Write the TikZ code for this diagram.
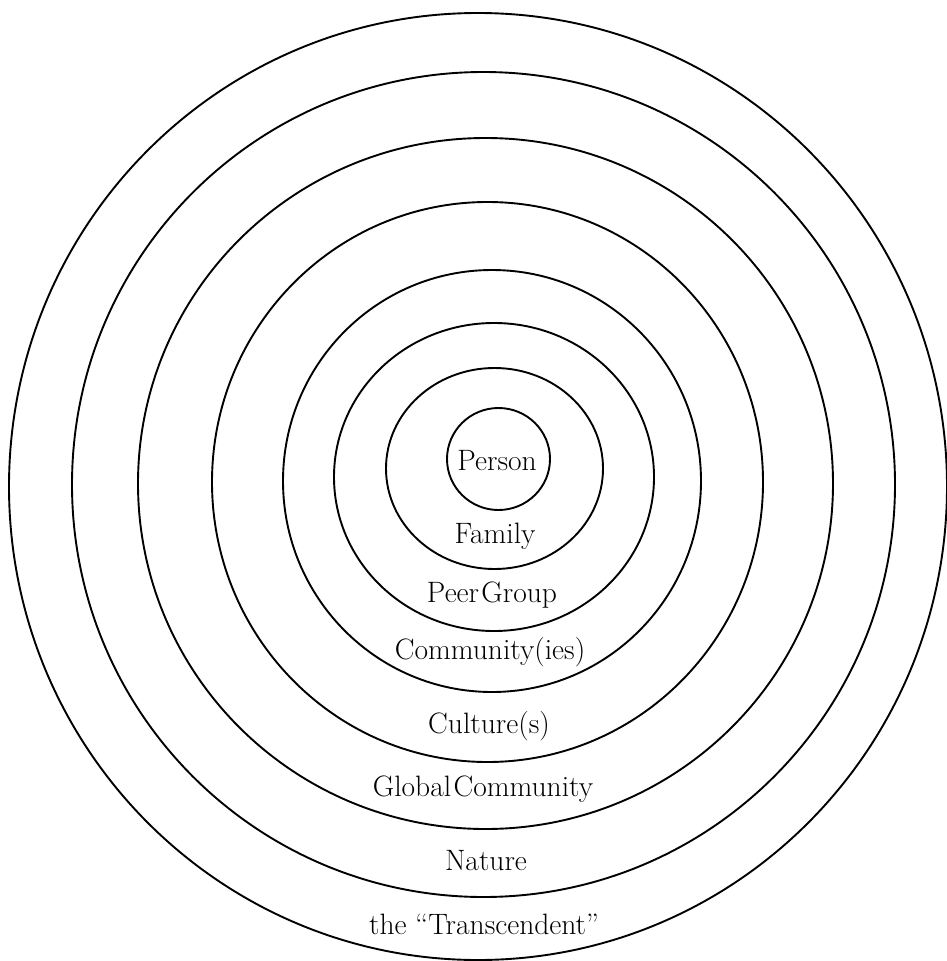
\documentclass[tikz,border=0pt]{standalone}
\begin{document}
\begin{tikzpicture}[x=1pt,y=-1pt,
  ring/.style={draw=black,line width=1.9pt},
  lbl/.style={font=\fontsize{29.5}{34}\selectfont,inner sep=0pt,anchor=base}]
\useasboundingbox (0,0) rectangle (946,961);
% rings, innermost to outermost
\coordinate (c1) at (498.5,459);
\coordinate (c2) at (494.5,468.5);
\coordinate (c3) at (494,477);
\coordinate (c4) at (492,481);
\coordinate (c5) at (487.5,482);
\coordinate (c6) at (485.5,483.5);
\coordinate (c7) at (483.5,484.5);
\coordinate (c8) at (478,486.5);
\draw[ring] (c1) ellipse [x radius=51.5,y radius=51];
\draw[ring] (c2) ellipse [x radius=108.5,y radius=100.5];
\draw[ring] (c3) ellipse [x radius=160,y radius=154];
\draw[ring] (c4) ellipse [x radius=209,y radius=211];
\draw[ring] (c5) ellipse [x radius=275.5,y radius=280];
\draw[ring] (c6) ellipse [x radius=347.5,y radius=345.5];
\draw[ring] (c7) ellipse [x radius=411.5,y radius=412.5];
\draw[ring] (c8) ellipse [x radius=469,y radius=473.5];
% labels
\node[lbl] (person) at (497,470) {Person};
\node[lbl] (family) at (495,543) {Family};
\node[lbl] (peer) at (492,602) {Peer\hspace{0.08em}Group};
\node[lbl] (community) at (490,659) {Community(ies)};
\node[lbl] (culture) at (489,733) {Culture(s)};
\node[lbl] (global) at (483,796) {Global\hspace{0.08em}Community};
\node[lbl] (nature) at (486,870) {Nature};
\node[lbl] (transcendent) at (484,934) {the ``Transcendent''};
\end{tikzpicture}
\end{document}
